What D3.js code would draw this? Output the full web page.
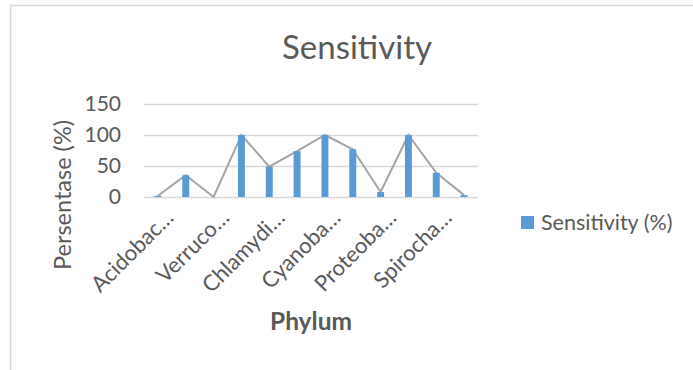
<!DOCTYPE html>
<html>
<head>
<meta charset="utf-8">
<script src="https://cdn.jsdelivr.net/npm/d3@7"></script>
<style>
  html, body { margin: 0; padding: 0; background: #fff; }
  svg { display: block; font-family: Lato, "Open Sans", sans-serif; }
</style>
</head>
<body>
<svg id="chart" width="693" height="370"></svg>
<script>
// Phylum axis labels (only every other category carries a label)
const phylumLabels = ["Acidobac…", "", "Verruco…", "", "Chlamydi…", "", "Cyanoba…", "", "Proteoba…", "", "Spirocha…", ""];
// Sensitivity (%) per phylum
const sensitivity = [2, 35, 0, 100, 49, 74, 100, 77, 8, 100, 39, 3];
const yTicks = [0, 50, 100, 150];
const seriesName = "Sensitivity (%)";

const svg = d3.select("#chart");
const textColor = "#595959";
const gridColor = "#d9d9d9";
const barColor = "#5b9bd5";
const lineColor = "#a5a5a5";

// chart frame
svg.append("rect")
  .attr("x", 10.5).attr("y", 5.5)
  .attr("width", 720).attr("height", 400)
  .attr("fill", "none").attr("stroke", gridColor).attr("stroke-width", 1.5);

const plot = { left: 144, right: 478, top: 104, bottom: 197 };

const x = d3.scaleBand()
  .domain(d3.range(sensitivity.length))
  .range([plot.left, plot.right])
  .padding(0);

const y = d3.scaleLinear()
  .domain([0, 150])
  .range([plot.bottom, plot.top]);

// gridlines + y tick labels
const yAxis = d3.axisLeft(y).tickValues(yTicks).tickSize(-(plot.right - plot.left)).tickPadding(23);
const gy = svg.append("g").attr("transform", `translate(${plot.left},0)`).call(yAxis);
gy.select(".domain").remove();
gy.selectAll(".tick line").attr("stroke", gridColor).attr("stroke-width", 1.3);
gy.selectAll(".tick text")
  .attr("fill", textColor)
  .style("font-size", "21px")
  .style("font-family", "Lato, sans-serif");

// connecting line through the values
const line = d3.line()
  .x((d, i) => x(i) + x.bandwidth() / 2)
  .y(d => y(d));
svg.append("path")
  .datum(sensitivity)
  .attr("d", line)
  .attr("fill", "none")
  .attr("stroke", lineColor)
  .attr("stroke-width", 2);

// bars
const barW = x.bandwidth() * 0.25;
svg.append("g").selectAll("rect")
  .data(sensitivity)
  .join("rect")
  .attr("x", (d, i) => x(i) + x.bandwidth() / 2 - barW / 2)
  .attr("y", d => y(d))
  .attr("width", barW)
  .attr("height", d => y(0) - y(d))
  .attr("fill", barColor);

// x category labels, rotated
svg.append("g").selectAll("text")
  .data(phylumLabels.map((t, i) => ({ t, i })).filter(d => d.t))
  .join("text")
  .attr("transform", d => `translate(${x(d.i) + x.bandwidth() / 2 + 17},219) rotate(-45)`)
  .attr("text-anchor", "end")
  .attr("fill", textColor)
  .style("font-size", "22px")
  .text(d => d.t);

// title
svg.append("text")
  .attr("x", 357).attr("y", 59)
  .attr("text-anchor", "middle")
  .attr("fill", textColor)
  .style("font-size", "33px")
  .text("Sensitivity");

// y axis title
svg.append("text")
  .attr("transform", "translate(71,195) rotate(-90)")
  .attr("text-anchor", "middle")
  .attr("fill", textColor)
  .style("font-size", "23.5px")
  .text("Persentase (%)");

// x axis title
svg.append("text")
  .attr("x", 311).attr("y", 330)
  .attr("text-anchor", "middle")
  .attr("fill", textColor)
  .style("font-size", "24.5px")
  .style("font-weight", "bold")
  .text("Phylum");

// legend
svg.append("rect")
  .attr("x", 521).attr("y", 216).attr("width", 13).attr("height", 13)
  .attr("fill", barColor);
svg.append("text")
  .attr("x", 541).attr("y", 230)
  .attr("fill", textColor)
  .style("font-size", "21.5px")
  .text(seriesName);
</script>
</body>
</html>
